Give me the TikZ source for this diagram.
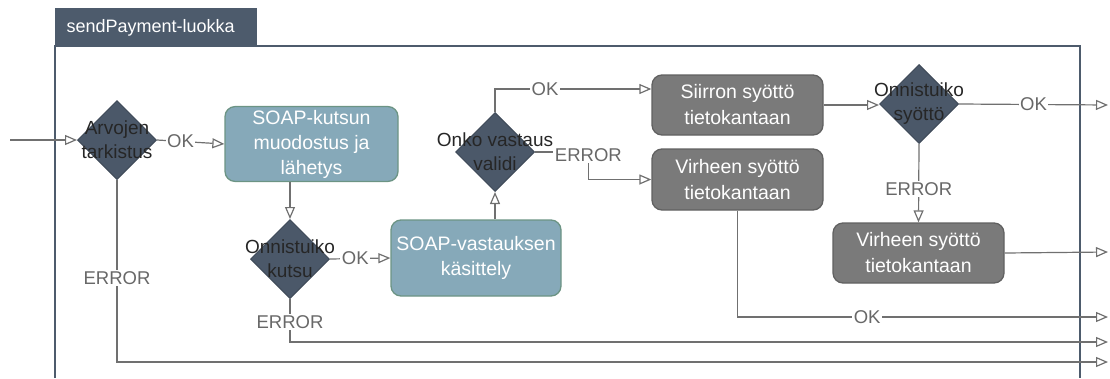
\documentclass[tikz,border=0pt]{standalone}
\usepackage{fontspec}
\setmainfont{Liberation Sans}
\usetikzlibrary{shapes.geometric,arrows.meta}
\definecolor{tabslate}{HTML}{4D5B6C}
\definecolor{decfill}{HTML}{4B5869}
\definecolor{decline}{HTML}{3E4A58}
\definecolor{soapfill}{HTML}{86A9B9}
\definecolor{soapline}{HTML}{6C9484}
\definecolor{dbfill}{HTML}{7A7A7A}
\definecolor{dbline}{HTML}{616161}
\definecolor{wire}{HTML}{707070}
\definecolor{wiretext}{HTML}{686868}

\tikzset{
  flow/.style={draw=wire, line width=1.2pt, -{Triangle[open,length=12pt,width=10pt]}},
  lbl/.style={fill=white, text=wiretext, inner sep=1.5pt, font=\fontsize{18.5}{20}\selectfont},
  decision/.style={diamond, fill=decfill, draw=decline, line width=1pt, inner sep=0pt,
    minimum width=79pt, minimum height=79pt},
  dectext/.style={text=black!85, align=center, font=\fontsize{19}{24}\selectfont},
  soapbox/.style={rectangle, rounded corners=10pt, fill=soapfill, draw=soapline, line width=1.3pt,
    text=white, align=center, font=\fontsize{19.5}{25}\selectfont},
  dbbox/.style={rectangle, rounded corners=10pt, fill=dbfill, draw=dbline, line width=1.3pt,
    text=white, align=center, font=\fontsize{19.5}{26}\selectfont},
}

\begin{document}
\begin{tikzpicture}[x=1pt,y=-1pt]
  \useasboundingbox (0,0) rectangle (1110,378);

  % class frame with its tab
  \draw[tabslate, line width=1.5pt] (55,378) -- (55,46) -- (1080,46) -- (1080,378);
  \fill[tabslate] (55,8) rectangle (257,46);
  \node[white, anchor=west, font=\fontsize{18}{20}\selectfont] (tab) at (63,28) {sendPayment-luokka};

  % decisions
  \node[decision] (d1) at (117,140) {};
  \node[dectext] at (d1) {Arvojen\\tarkistus};
  \node[decision] (d2) at (290,259) {};
  \node[dectext] at (d2) {Onnistuiko\\kutsu};
  \node[decision] (d3) at (495,152) {};
  \node[dectext] at (d3) {Onko vastaus\\validi};
  \node[decision] (d4) at (919,104) {};
  \node[dectext] at (d4) {Onnistuiko\\syöttö};

  % steps
  \node[soapbox, minimum width=173pt, minimum height=74pt] (b1) at (311.5,144) {SOAP-kutsun\\muodostus ja\\lähetys};
  \node[soapbox, minimum width=170pt, minimum height=76pt] (b2) at (476,258) {SOAP-vastauksen\\käsittely};
  \node[dbbox, minimum width=171pt, minimum height=60pt] (b3) at (737.5,105) {Siirron syöttö\\tietokantaan};
  \node[dbbox, minimum width=171pt, minimum height=61pt] (b4) at (737.5,179.5) {Virheen syöttö\\tietokantaan};
  \node[dbbox, minimum width=171pt, minimum height=60pt] (b5) at (918.5,253) {Virheen syöttö\\tietokantaan};

  % entry and exits
  \coordinate (start) at (10,140);
  \coordinate (out1) at (1108,105);
  \coordinate (out2) at (1108,252);
  \coordinate (out3) at (1108,317);
  \coordinate (out4) at (1108,342);
  \coordinate (out5) at (1108,362);

  \draw[flow] (start) -- (d1.west);
  \draw[flow] (d1.east) -- node[lbl,pos=0.35]{OK} (b1.west);
  \draw[flow] (d2.north |- b1.south) -- (d2.north);
  \draw[flow] (d2.east) -- node[lbl,pos=0.42]{OK} (b2.west);
  \draw[flow] (d3.south |- b2.north) -- (d3.south);
  \draw[flow] (d3.north) |- node[lbl,pos=0.66]{OK} ([yshift=16pt]b3.west);
  \draw[flow] (d3.east) -| node[lbl,pos=0.5,yshift=-3pt]{ERROR} ([xshift=-63pt]b4.west) -- (b4.west);
  \draw[flow] (b3.east) -- (d4.west |- b3.east);
  \draw[flow] (d4.east) -- node[lbl,pos=0.5]{OK} (out1);
  \draw[flow] (d4.south) -- node[lbl,pos=0.575]{ERROR} (b5.north);
  \draw[flow] (b5.east) -- (out2);
  \draw[flow] (b4.south) |- node[lbl,pos=0.675]{OK} (out3);
  \draw[flow] (d2.south) |- node[lbl,pos=0.27]{ERROR} (out4);
  \draw[flow] (d1.south) |- node[lbl,pos=0.27]{ERROR} (out5);
\end{tikzpicture}
\end{document}
